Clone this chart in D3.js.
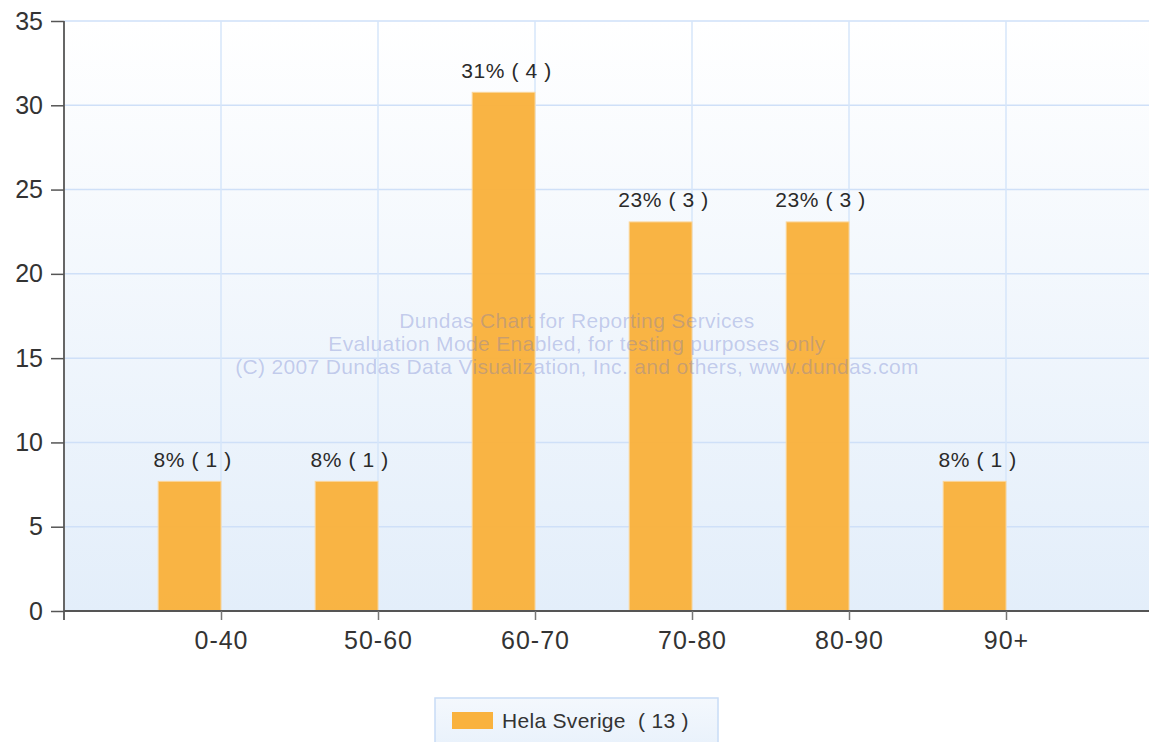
<!DOCTYPE html>
<html><head><meta charset="utf-8">
<script src="https://cdnjs.cloudflare.com/ajax/libs/d3/7.8.5/d3.min.js"></script>
<style>body{margin:0;background:#fff;}svg{display:block;font-family:"Liberation Sans",Arial,sans-serif;}</style>
</head><body><svg id="c" width="1149" height="742"></svg>
<script>
const categories = ["0-40","50-60","60-70","70-80","80-90","90+"];
const values = [7.69, 7.69, 30.77, 23.08, 23.08, 7.69];
const counts = [1, 1, 4, 3, 3, 1];
const percentLabels = ["8%","8%","31%","23%","23%","8%"];
const yTicks = [0,5,10,15,20,25,30,35];
const seriesName = "Hela Sverige";
const seriesTotal = 13;
const watermark = ["Dundas Chart for Reporting Services","Evaluation Mode Enabled, for testing purposes only","(C) 2007 Dundas Data Visualization, Inc. and others, www.dundas.com"];

const svg = d3.select("#c");
const pLeft = 64, pTop = 21, pBottom = 611, pRight = 64 + 7*157;
const x = d3.scaleLinear().domain([0, categories.length + 1]).range([pLeft, pRight]);
const y = d3.scaleLinear().domain([0, 35]).range([pBottom, pTop]);

const defs = svg.append("defs");
const g1 = defs.append("linearGradient").attr("id","bg").attr("x1",0).attr("y1",0).attr("x2",0).attr("y2",1);
g1.append("stop").attr("offset","0%").attr("stop-color","#ffffff");
g1.append("stop").attr("offset","100%").attr("stop-color","#e3eefa");
const g2 = defs.append("linearGradient").attr("id","lg").attr("x1",0).attr("y1",0).attr("x2",0).attr("y2",1);
g2.append("stop").attr("offset","0%").attr("stop-color","#f4f8fd");
g2.append("stop").attr("offset","100%").attr("stop-color","#e6f0fb");

svg.append("rect").attr("x",pLeft).attr("y",pTop).attr("width",pRight-pLeft).attr("height",pBottom-pTop).attr("fill","url(#bg)");

// horizontal grid
svg.append("g").selectAll("line").data(yTicks.filter(d=>d>0)).join("line")
  .attr("x1",pLeft).attr("x2",pRight).attr("y1",d=>y(d)).attr("y2",d=>y(d))
  .attr("stroke","#cfe0f8").attr("stroke-width",1.5);
// vertical grid
svg.append("g").selectAll("line").data(d3.range(1, categories.length+2)).join("line")
  .attr("x1",d=>x(d)).attr("x2",d=>x(d)).attr("y1",pTop).attr("y2",pBottom)
  .attr("stroke","#d6e6fa").attr("stroke-width",1.5);

// bars
const bw = 157*0.4;
svg.append("g").selectAll("rect").data(values).join("rect")
  .attr("x",(d,i)=>x(i+1)-bw).attr("width",bw)
  .attr("y",d=>y(d)).attr("height",d=>y(0)-y(d))
  .attr("fill","#f9b23e").attr("stroke","#fbd69a").attr("stroke-width",1).attr("fill-opacity",0.97);

// watermark (drawn over the bars, semi-transparent)
svg.append("g").selectAll("text").data(watermark).join("text")
  .attr("x",577).attr("y",(d,i)=>321+i*23).attr("dy","0.35em").attr("text-anchor","middle")
  .attr("font-size",21).attr("letter-spacing",0.35).attr("fill","#6070c8").attr("fill-opacity",0.32).text(d=>d);

// data labels
svg.append("g").selectAll("text").data(values).join("text")
  .attr("x",(d,i)=>x(i+1)-bw/2+3).attr("y",d=>y(d)-22).attr("dy","0.35em")
  .attr("text-anchor","middle").attr("font-size",21).attr("letter-spacing",0.6).attr("fill","#2a2a2a")
  .text((d,i)=>`${percentLabels[i]} ( ${counts[i]} )`);

// y axis
const yAxis = svg.append("g").attr("transform",`translate(${pLeft},0)`)
  .call(d3.axisLeft(y).tickValues(yTicks).tickSize(13).tickPadding(8));
yAxis.select(".domain").attr("stroke","#666").attr("stroke-width",2).attr("d",`M0,${pTop}V${pBottom+9}`);
yAxis.selectAll(".tick line").attr("stroke","#555").attr("stroke-width",1.5);
yAxis.selectAll("text").attr("font-size",25).attr("fill","#333").attr("font-family","Liberation Sans, Arial, sans-serif");

// x axis
const xAxis = svg.append("g").attr("transform",`translate(0,${pBottom})`)
  .call(d3.axisBottom(x).tickValues(d3.range(1,categories.length+1)).tickFormat(d=>categories[d-1]).tickSize(9).tickPadding(11));
xAxis.select(".domain").attr("stroke","#555").attr("stroke-width",2).attr("d",`M${pLeft},0H${pRight}`);
xAxis.selectAll(".tick line").attr("stroke","#777").attr("stroke-width",1.5);
xAxis.selectAll("text").attr("font-size",25).attr("letter-spacing",1).attr("fill","#333").attr("font-family","Liberation Sans, Arial, sans-serif");

// legend
const lg = svg.append("g");
lg.append("rect").attr("x",435).attr("y",698).attr("width",283).attr("height",60)
  .attr("fill","url(#lg)").attr("stroke","#c8dcf6").attr("stroke-width",1.5);
lg.append("rect").attr("x",452).attr("y",712).attr("width",41).attr("height",17).attr("fill","#f9b23e");
lg.append("text").attr("x",502).attr("y",721).attr("dy","0.35em").attr("font-size",21).attr("letter-spacing",0.3).attr("fill","#333")
  .style("white-space","pre").text(`${seriesName}  ( ${seriesTotal} )`);
</script></body></html>
